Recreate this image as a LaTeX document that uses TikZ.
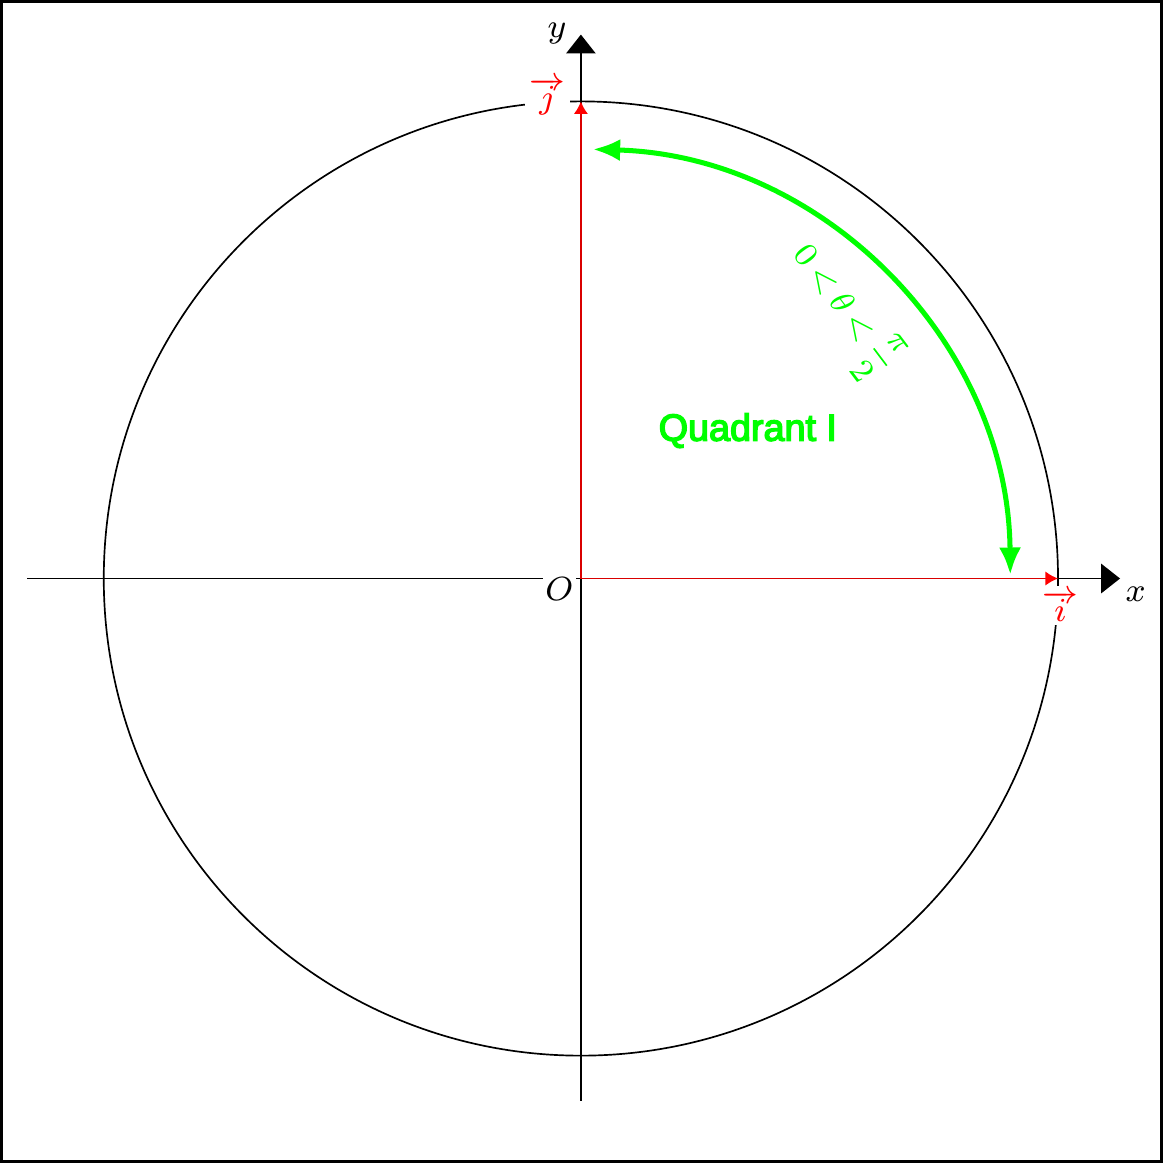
\documentclass[tikz,border=0pt]{standalone}
\usepackage{fontspec}
\newfontfamily\quadfont{Liberation Sans}
\usetikzlibrary{arrows.meta}
\newcommand{\outlined}[1]{\special{pdf:literal direct 2 Tr 0.35 w}#1\special{pdf:literal direct 0 Tr}}

\begin{document}
\begin{tikzpicture}[
  axis/.style={-{Triangle[length=4.5pt,width=7pt]}},
  vec/.style={red!85!black, -{Latex[length=3pt,width=3.4pt,color=red]}},
  lbl/.style={fill=white, inner sep=1pt},
  arcline/.style={green, line width=1.2pt, {Latex[length=6.5pt,width=5.3pt]}-{Latex[length=6.5pt,width=5.3pt]}},
  every node/.style={font=\footnotesize}
]
  \useasboundingbox (-4.87,-4.90) rectangle (4.88,4.85);
  \draw[line width=0.8pt] (-4.86,-4.89) rectangle (4.87,4.84);

  \coordinate (O) at (0,0);
  \coordinate (xmin) at (-4.64,0);
  \coordinate (xmax) at (4.52,0);
  \coordinate (ymin) at (0,-4.38);
  \coordinate (ymax) at (0,4.56);
  \coordinate (I) at (4,0);
  \coordinate (J) at (0,4);

  \draw (O) circle (4);
  \draw[axis] (xmin) -- (xmax);
  \draw[axis] (ymin) -- (ymax);

  \draw[vec] (O) -- (I);
  \draw[vec] (O) -- (J);

  % labels
  \node[lbl, inner sep=0.5pt] (Olbl) at (-0.18,-0.085) {$O$};
  \node (xlbl) at (4.65,-0.13) {$x$};
  \node (ylbl) at (-0.20,4.57) {$y$};
  \node[lbl, text=red] (ilbl) at (4.02,-0.23) {$\overrightarrow{i}$};
  \node[lbl, text=red] (jlbl) at (-0.28,4.04) {$\overrightarrow{j}$};

  % angle
  \draw[arcline] (88.4:3.6) arc[start angle=88.4, end angle=0.5, radius=3.6];
  \node[text=green, font=\footnotesize, rotate=-53] (theta) at (45.6:3.14) {$\thickmuskip=3.5mu\displaystyle 0<\theta<\frac{\pi}{2}$};

  \node[text=green, font=\quadfont\fontsize{9}{11}\selectfont] (quad) at (1.40,1.24) {\outlined{Quadrant I}};
\end{tikzpicture}
\end{document}
